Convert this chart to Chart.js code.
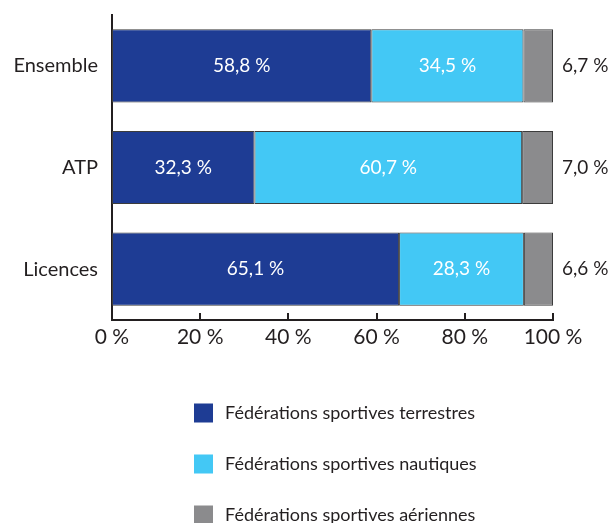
<!DOCTYPE html>
<html>
<head>
<meta charset="utf-8">
<script src="https://cdn.jsdelivr.net/npm/chart.js@4/dist/chart.umd.min.js"></script>
<style>
  html, body { margin: 0; padding: 0; background: #fff; }
  #wrap { width: 611px; height: 523px; }
</style>
</head>
<body>
<div id="wrap"><canvas id="myChart" width="611" height="523"></canvas></div>
<script>
// data
const categories = ['Ensemble', 'ATP', 'Licences'];
const terrestres = [58.8, 32.3, 65.1];
const nautiques  = [34.5, 60.7, 28.3];
const aeriennes  = [6.7, 7.0, 6.6];
const seriesNames = [
  'Fédérations sportives terrestres',
  'Fédérations sportives nautiques',
  'Fédérations sportives aériennes'
];
const xTicks = [0, 20, 40, 60, 80, 100];

const FONT = 'Lato, "Open Sans", sans-serif';
const TEXT = '#231f20';
const fmt = v => v.toFixed(1).replace('.', ',') + ' %';

// value labels, inward tick marks and the vertical legend
const extras = {
  id: 'extras',
  afterDatasetsDraw(chart) {
    const c = chart.ctx;
    c.save();
    c.textBaseline = 'middle';
    c.font = '19px ' + FONT;
    chart.data.datasets.forEach((ds, i) => {
      chart.getDatasetMeta(i).data.forEach((bar, j) => {
        const v = ds.data[j];
        if (i < 2) {
          c.fillStyle = '#ffffff';
          c.textAlign = 'center';
          c.fillText(fmt(v), (bar.x + bar.base) / 2, bar.y);
        } else {
          c.fillStyle = TEXT;
          c.textAlign = 'left';
          c.fillText(fmt(v), bar.x + 9, bar.y);
        }
      });
    });
    c.restore();
  },
  afterDraw(chart) {
    const c = chart.ctx;
    const xs = chart.scales.x;
    const area = chart.chartArea;
    c.save();
    c.strokeStyle = TEXT;
    c.lineWidth = 2;
    xTicks.forEach(t => {
      const px = Math.round(xs.getPixelForValue(t));
      c.beginPath();
      c.moveTo(px, area.bottom);
      c.lineTo(px, area.bottom - 7);
      c.stroke();
    });

    // legend
    c.font = '18px ' + FONT;
    c.textBaseline = 'middle';
    c.textAlign = 'left';
    chart.data.datasets.forEach((ds, i) => {
      const cy = 413 + i * 51;
      c.fillStyle = ds.backgroundColor;
      c.fillRect(194, cy - 9.5, 19, 19);
      c.fillStyle = TEXT;
      c.fillText(ds.label, 225, cy);
    });
    c.restore();
  }
};

new Chart(document.getElementById('myChart').getContext('2d'), {
  type: 'bar',
  data: {
    labels: categories,
    datasets: [
      { label: seriesNames[0], data: terrestres, backgroundColor: '#1e3c94' },
      { label: seriesNames[1], data: nautiques,  backgroundColor: '#43c8f5' },
      { label: seriesNames[2], data: aeriennes,  backgroundColor: '#8b8b8d' }
    ].map(d => Object.assign(d, {
      borderColor: '#3c3c3c',
      borderWidth: 1,
      borderSkipped: false,
      barPercentage: 0.72,
      categoryPercentage: 1
    }))
  },
  options: {
    responsive: false,
    animation: false,
    indexAxis: 'y',
    layout: { padding: { top: 15, right: 58, bottom: 0, left: 0 } },
    plugins: {
      legend: { display: false },
      tooltip: { enabled: false }
    },
    scales: {
      x: {
        stacked: true,
        min: 0,
        max: 100,
        afterBuildTicks: s => { s.ticks = xTicks.map(v => ({ value: v })); },
        afterFit: s => { s.height = 203; s.paddingLeft = 0; s.paddingRight = 0; },
        grid: { display: false, drawTicks: false },
        border: { display: true, color: TEXT, width: 2 },
        ticks: {
          padding: 5,
          color: TEXT,
          font: { family: FONT, size: 21 },
          maxRotation: 0,
          callback: v => v + ' %'
        }
      },
      y: {
        stacked: true,
        afterFit: s => { s.width = 112; s.paddingTop = 0; s.paddingBottom = 0; },
        grid: { display: false, drawTicks: false },
        border: { display: true, color: TEXT, width: 2 },
        ticks: {
          padding: 14,
          color: TEXT,
          font: { family: FONT, size: 20 }
        }
      }
    }
  },
  plugins: [extras]
});
</script>
</body>
</html>
